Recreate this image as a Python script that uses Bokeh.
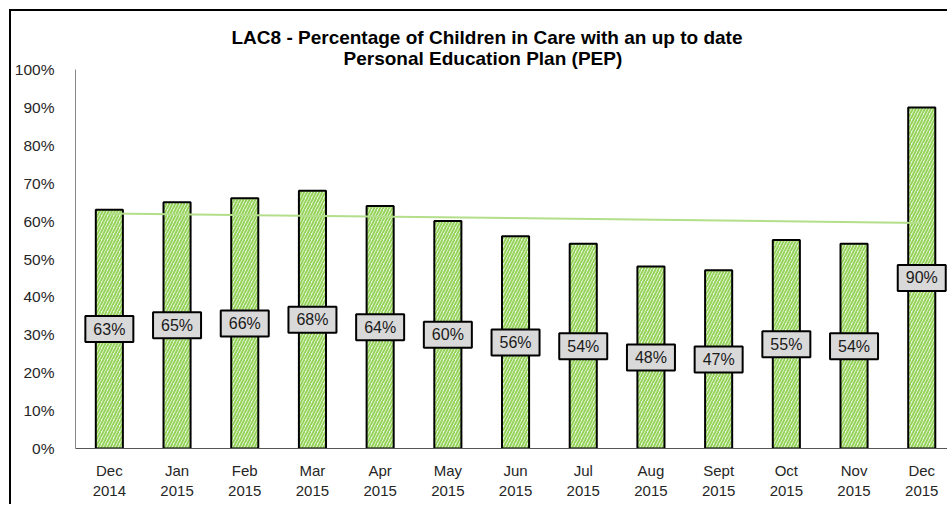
import numpy as np
from bokeh.plotting import figure
from bokeh.models import ColumnDataSource, FixedTicker, PrintfTickFormatter, Range1d, Title
from bokeh.embed import file_html
from bokeh.resources import INLINE
from bokeh.core.properties import value

# Monthly PEP completion rates (%)
months = ["Dec", "Jan", "Feb", "Mar", "Apr", "May", "Jun", "Jul", "Aug", "Sept", "Oct", "Nov", "Dec"]
years = ["2014", "2015", "2015", "2015", "2015", "2015", "2015", "2015", "2015", "2015", "2015", "2015", "2015"]
pct = [63, 65, 66, 68, 64, 60, 56, 54, 48, 47, 55, 54, 90]
y_ticks = [0, 10, 20, 30, 40, 50, 60, 70, 80, 90, 100]

title_lines = ["LAC8 - Percentage of Children in Care with an up to date",
               "Personal Education Plan (PEP)"]

FONT = "Liberation Sans"

x = np.arange(len(pct))
src = ColumnDataSource(dict(
    x=x,
    pct=pct,
    mid=[v / 2 for v in pct],
    label=[f"{v}%" for v in pct],
))

p = figure(
    width=938, height=495,
    x_range=Range1d(-0.5, 12.41), y_range=Range1d(0, 100),
    output_backend="svg", toolbar_location=None,
    min_border_left=60, min_border_top=58, min_border_bottom=58, min_border_right=0,
)
p.margin = (9, 0, 0, 9)
p.styles = {"border-left": "2px solid #000", "border-top": "2px solid #000"}
p.outline_line_color = None
p.xgrid.visible = False
p.ygrid.visible = False
p.background_fill_color = "white"
p.border_fill_color = "white"

# hatched bars
p.vbar(x="x", top="pct", bottom=0, width=0.4, source=src,
       fill_color="#f2f9ea", hatch_pattern="/", hatch_color="#95d35a",
       hatch_scale=6, hatch_weight=2,
       line_color="black", line_width=2)

# linear trend over the period
k, b = np.polyfit(x, pct, 1)
p.line(x=[x[0], x[-1]], y=[b, k * x[-1] + b], line_color="#b3de8a", line_width=2)

# value labels in grey boxes at bar mid-height
p.rect(x="x", y="mid", width=48, height=26, width_units="screen", height_units="screen",
       source=src, fill_color="#d9d9d9", line_color="black", line_width=2)
p.text(x="x", y="mid", text="label", source=src, text_align="center", text_baseline="middle",
       text_font=value(FONT), text_font_size="16px", text_color="#1a1a1a")

# axes
p.yaxis.ticker = FixedTicker(ticks=y_ticks)
p.yaxis.formatter = PrintfTickFormatter(format="%d%%")
p.yaxis.major_tick_line_color = None
p.yaxis.minor_tick_line_color = None
p.yaxis.axis_line_color = "#888888"
p.yaxis.major_label_standoff = 15
p.yaxis.major_label_text_font = FONT
p.yaxis.major_label_text_font_size = "15.5px"
p.yaxis.major_label_text_color = "#262626"

p.xaxis.ticker = FixedTicker(ticks=list(x))
p.xaxis.major_label_overrides = {int(i): f"{m}\n{yv}" for i, m, yv in zip(x, months, years)}
p.xaxis.major_tick_line_color = None
p.xaxis.minor_tick_line_color = None
p.xaxis.axis_line_color = "#555555"
p.xaxis.major_label_standoff = 7
p.xaxis.major_label_text_font = FONT
p.xaxis.major_label_text_font_size = "15px"
p.xaxis.major_label_text_color = "#262626"

# two-line title, lower line added first so it sits next to the plot
for txt, st, off in [(title_lines[1], 1, 268), (title_lines[0], -5, 156)]:
    p.add_layout(Title(text=txt, align="left", offset=off, standoff=st,
                       text_font=FONT, text_font_style="bold", text_font_size="19px",
                       text_color="black"), "above")

open("out.html", "w").write(file_html(p, INLINE))
